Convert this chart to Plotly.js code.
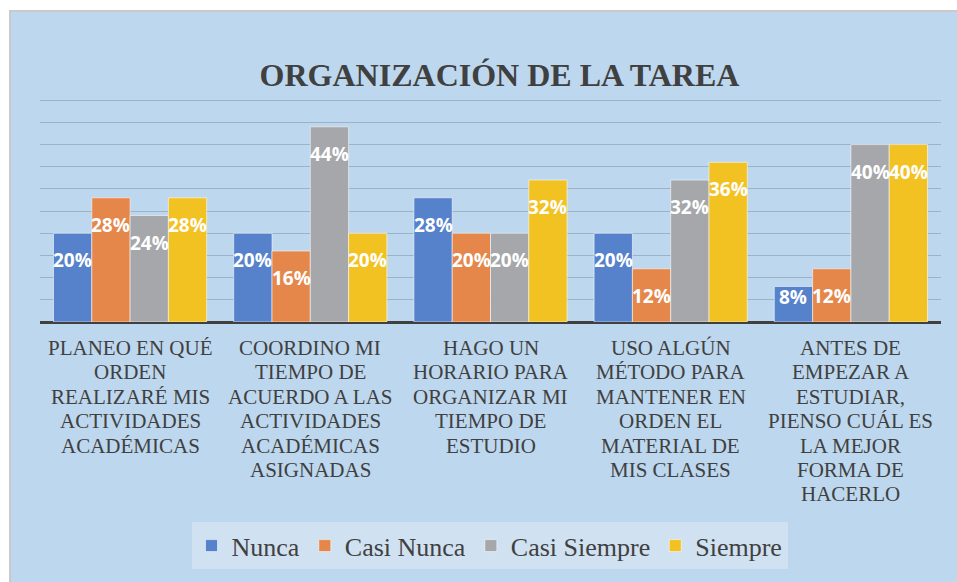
<!DOCTYPE html>
<html>
<head>
<meta charset="utf-8">
<script src="https://cdn.plot.ly/plotly-3.0.1.min.js"></script>
<style>
html,body{margin:0;padding:0;background:#ffffff;overflow:hidden;width:957px;height:582px;}
#frame{position:absolute;left:9px;top:10px;width:946px;height:570px;border-left:2px solid #C9C9C9;border-top:2px solid #C9C9C9;background:#BDD7EE;}
#chart{width:946px;height:570px;}
</style>
</head>
<body>
<div id="frame"><div id="chart"></div></div>
<script>
// ---- data ----
var categories = [
  "PLANEO EN QUÉ<br>ORDEN<br>REALIZARÉ MIS<br>ACTIVIDADES<br>ACADÉMICAS",
  "COORDINO MI<br>TIEMPO DE<br>ACUERDO A LAS<br>ACTIVIDADES<br>ACADÉMICAS<br>ASIGNADAS",
  "HAGO UN<br>HORARIO PARA<br>ORGANIZAR MI<br>TIEMPO DE<br>ESTUDIO",
  "USO ALGÚN<br>MÉTODO PARA<br>MANTENER EN<br>ORDEN EL<br>MATERIAL DE<br>MIS CLASES",
  "ANTES DE<br>EMPEZAR A<br>ESTUDIAR,<br>PIENSO CUÁL ES<br>LA MEJOR<br>FORMA DE<br>HACERLO"
];
var seriesNames = ["Nunca", "Casi Nunca", "Casi Siempre", "Siempre"];
var nunca       = [0.20, 0.20, 0.28, 0.20, 0.08];
var casiNunca   = [0.28, 0.16, 0.20, 0.12, 0.12];
var casiSiempre = [0.24, 0.44, 0.20, 0.32, 0.40];
var siempre     = [0.28, 0.20, 0.32, 0.36, 0.40];
var titleText = "ORGANIZACIÓN DE LA TAREA";

// ---- styling ----
var SERIF = "Liberation Serif";
var seriesValues = [nunca, casiNunca, casiSiempre, siempre];
var colors = ["#5681CB", "#E5874B", "#A5A7AA", "#F2C222"];
var W = 946, H = 570;
var M = {l: 29, r: 16, t: 86, b: 258};
var bargap = 0.15;
var plotW = W - M.l - M.r;
var plotH = H - M.t - M.b;
var barW = plotW / categories.length * (1 - bargap) / seriesNames.length;

var traces = seriesNames.map(function (name, i) {
  return {
    type: "bar",
    name: name,
    x: categories,
    y: seriesValues[i],
    marker: {color: colors[i], line: {color: "rgba(255,255,255,0.55)", width: 1}},
    hoverinfo: "skip"
  };
});

var annotations = [];
// value labels
seriesValues.forEach(function (vals, i) {
  vals.forEach(function (v, j) {
    annotations.push({
      x: categories[j], y: v, xref: "x", yref: "y",
      text: Math.round(v * 100) + "%",
      showarrow: false,
      xanchor: "center", yanchor: "middle",
      xshift: (i - (seriesNames.length - 1) / 2) * barW,
      yshift: v < 0.1 ? -10 : -27,
      font: {family: "Open Sans", size: 19, color: "#ffffff", weight: "bold"}
    });
  });
});
// category labels, one annotation per line for tighter line spacing
categories.forEach(function (c) {
  c.split("<br>").forEach(function (line, k) {
    annotations.push({
      x: c, y: 0, xref: "x", yref: "y",
      text: line, showarrow: false,
      xanchor: "center", yanchor: "middle",
      yshift: -(26 + k * 24.4),
      font: {family: SERIF, size: 21, color: "#404040"}
    });
  });
});

var layout = {
  width: W, height: H,
  margin: M,
  paper_bgcolor: "rgba(0,0,0,0)",
  plot_bgcolor: "rgba(0,0,0,0)",
  barmode: "group",
  bargap: bargap,
  bargroupgap: 0,
  title: {
    text: titleText,
    x: (488.5 - M.l) / plotW, xref: "paper", xanchor: "center",
    y: 1 - 63 / H, yref: "container", yanchor: "middle",
    font: {family: SERIF, size: 32, color: "#404040", weight: "bold"}
  },
  xaxis: {type: "category", showticklabels: false, showgrid: false, showline: false, ticks: ""},
  yaxis: {
    range: [0, 0.505], dtick: 0.05, showticklabels: false,
    showgrid: true, gridcolor: "#9DB2C6", gridwidth: 1,
    zeroline: true, zerolinecolor: "#404040", zerolinewidth: 3, ticks: ""
  },
  showlegend: true,
  legend: {
    orientation: "h",
    x: (478.5 - M.l) / plotW, xanchor: "center",
    y: (H - M.b - 514) / plotH, yanchor: "top",
    bgcolor: "#D0E1F1",
    font: {family: SERIF, size: 26, color: "#404040"},
    traceorder: "normal"
  },
  annotations: annotations
};

Plotly.newPlot("chart", traces, layout, {displayModeBar: false, staticPlot: true});
</script>
</body>
</html>
